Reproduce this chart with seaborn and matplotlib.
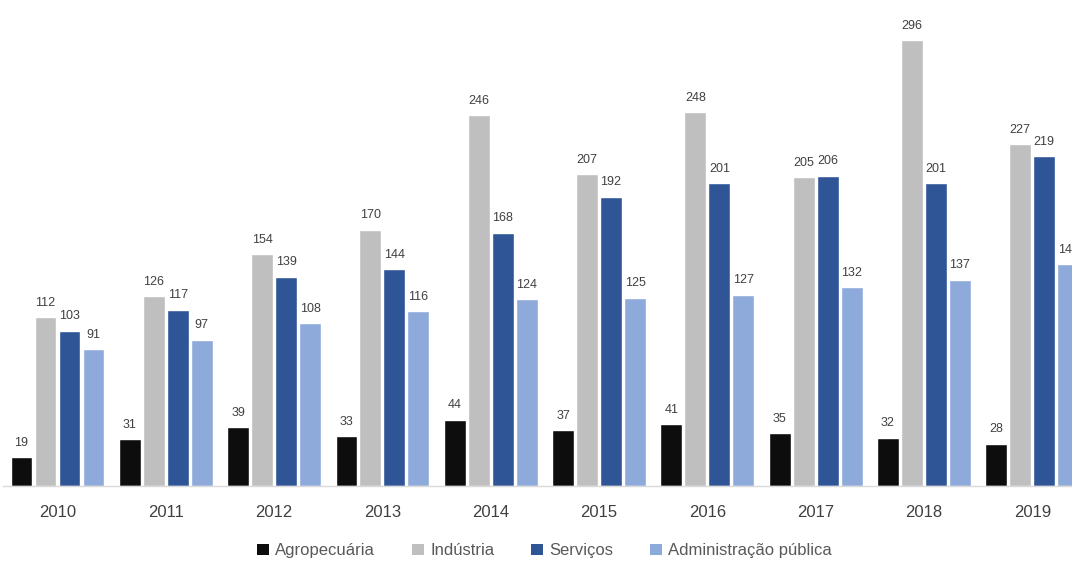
import matplotlib
matplotlib.use("Agg")
import matplotlib.pyplot as plt
import seaborn as sns
import pandas as pd
from matplotlib.patches import Patch

years = ["2010", "2011", "2012", "2013", "2014", "2015", "2016", "2017", "2018", "2019"]
series_names = ["Agropecuária", "Indústria", "Serviços", "Administração pública"]
agro = [19, 31, 39, 33, 44, 37, 41, 35, 32, 28]
industria = [112, 126, 154, 170, 246, 207, 248, 205, 296, 227]
servicos = [103, 117, 139, 144, 168, 192, 201, 206, 201, 219]
admin = [91, 97, 108, 116, 124, 125, 127, 132, 137, 147]
colors = ["#0d0d0d", "#bfbfbf", "#2f5597", "#8eaadb"]

sns.set_theme(style="white")
plt.rcParams["font.family"] = ["Liberation Sans Narrow", "Liberation Sans", "DejaVu Sans"]

rows = []
for name, vals in zip(series_names, [agro, industria, servicos, admin]):
    for y, v in zip(years, vals):
        rows.append({"Ano": y, "Setor": name, "Valor": v})
df = pd.DataFrame(rows)

fig = plt.figure(figsize=(10.72, 5.61), dpi=100)
ax = fig.add_axes([3 / 1072, 75 / 561, 1 - 3 / 1072, 1 - 75 / 561])

sns.barplot(data=df, x="Ano", y="Valor", hue="Setor", hue_order=series_names,
            palette=colors, width=0.886, gap=0.09, ax=ax, legend=False,
            saturation=1, errorbar=None)

for cont in ax.containers:
    ax.bar_label(cont, padding=6, fontsize=9, color="#404040", fmt="%d")

ax.set_xlim(-0.503, 9.367)
ax.set_ylim(0, 322.5)
ax.set_xlabel("")
ax.set_ylabel("")
ax.set_yticks([])
for s in ["top", "right", "left"]:
    ax.spines[s].set_visible(False)
ax.spines["bottom"].set_color("#d9d9d9")
ax.spines["bottom"].set_linewidth(1)
ax.tick_params(axis="x", length=0, pad=14, labelsize=12, labelcolor="#404040")

handles = [Patch(facecolor=c, edgecolor="none") for c in colors]
fig.legend(handles, series_names, loc="center", bbox_to_anchor=(0.508, 0.018),
           ncol=4, frameon=False, fontsize=12, labelcolor="#595959",
           handlelength=0.7, handleheight=0.7, handletextpad=0.4, columnspacing=2.2)

fig.savefig("out.png", dpi=100)
